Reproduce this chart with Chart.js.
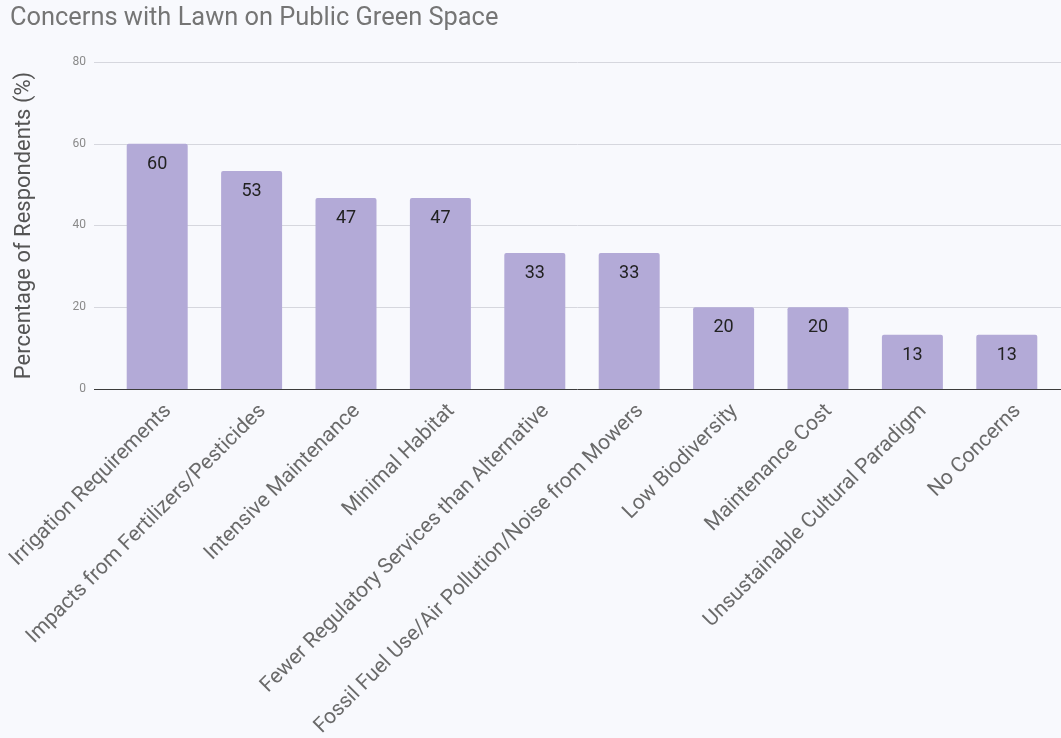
<!DOCTYPE html>
<html>
<head>
<meta charset="utf-8">
<script src="https://cdn.jsdelivr.net/npm/chart.js@4"></script>
<style>
  html, body { margin: 0; padding: 0; background: #f8f9fd; }
  #wrap { width: 1061px; height: 738px; }
</style>
</head>
<body>
<div id="wrap"><canvas id="c" width="1061" height="738"></canvas></div>
<script>
const categories = [
  "Irrigation Requirements",
  "Impacts from Fertilizers/Pesticides",
  "Intensive Maintenance",
  "Minimal Habitat",
  "Fewer Regulatory Services than Alternative",
  "Fossil Fuel Use/Air Pollution/Noise from Mowers",
  "Low Biodiversity",
  "Maintenance Cost",
  "Unsustainable Cultural Paradigm",
  "No Concerns"
];
const percentages = [60, 53.3, 46.7, 46.7, 33.3, 33.3, 20, 20, 13.3, 13.3];
const yTicks = [0, 20, 40, 60, 80];
const chartTitle = "Concerns with Lawn on Public Green Space";
const yTitle = "Percentage of Respondents (%)";

const FONT = "Roboto, 'Noto Sans', sans-serif";

const gridPlugin = {
  id: 'extGrid',
  beforeDatasetsDraw(chart) {
    const ctx = chart.ctx;
    const ys = chart.scales.y;
    ctx.save();
    ctx.lineWidth = 1;
    ys.ticks.forEach(t => {
      const y = Math.round(ys.getPixelForValue(t.value)) + 0.5;
      ctx.strokeStyle = t.value === 0 ? '#3c3c3c' : '#d6d7de';
      ctx.beginPath();
      ctx.moveTo(94, y);
      ctx.lineTo(chart.width, y);
      ctx.stroke();
    });
    ctx.restore();
  }
};

const labelPlugin = {
  id: 'barLabels',
  afterDatasetsDraw(chart) {
    const ctx = chart.ctx;
    const meta = chart.getDatasetMeta(0);
    ctx.save();
    ctx.font = "18px " + FONT;
    ctx.fillStyle = '#222222';
    ctx.textAlign = 'center';
    ctx.textBaseline = 'middle';
    meta.data.forEach((bar, i) => {
      const v = chart.data.datasets[0].data[i];
      ctx.fillText(String(Math.round(v)), bar.x, bar.y + 20.5);
    });
    ctx.restore();
  }
};

new Chart(document.getElementById('c'), {
  type: 'bar',
  data: {
    labels: categories,
    datasets: [{
      data: percentages,
      backgroundColor: '#b3aad7',
      borderRadius: { topLeft: 2, topRight: 2, bottomLeft: 0, bottomRight: 0 },
      borderSkipped: 'start',
      categoryPercentage: 1,
      barPercentage: 0.646
    }]
  },
  options: {
    responsive: false,
    animation: false,
    devicePixelRatio: 1,
    layout: { padding: { left: 10, right: 7, top: 0, bottom: 0 } },
    plugins: {
      legend: { display: false },
      tooltip: { enabled: false },
      title: {
        display: true,
        text: chartTitle,
        align: 'start',
        color: '#757575',
        font: { family: FONT, size: 25.4, weight: 'normal' },
        padding: { top: 3.5, bottom: 28 }
      }
    },
    scales: {
      x: {
        grid: { display: false },
        border: { display: false },
        ticks: {
          autoSkip: false,
          maxRotation: 45,
          minRotation: 45,
          color: '#6a6a6a',
          font: { family: FONT, size: 21 },
          padding: 2,
          labelOffset: 11
        },
        afterFit(scale) {
          scale.height = 349;
          scale.paddingLeft = 0;
          scale.paddingRight = 0;
        }
      },
      y: {
        min: 0,
        max: 80,
        afterBuildTicks(scale) { scale.ticks = yTicks.map(v => ({ value: v })); },
        grid: { display: false },
        border: { display: false },
        ticks: {
          color: '#8a8a8a',
          font: { family: FONT, size: 12 },
          padding: 16
        },
        title: {
          display: true,
          text: yTitle,
          color: '#555555',
          font: { family: FONT, size: 22 },
          padding: { top: 1, bottom: 0 }
        },
        afterFit(scale) {
          scale.width = 100;
          scale.paddingTop = 0;
          scale.paddingBottom = 0;
        }
      }
    }
  },
  plugins: [gridPlugin, labelPlugin]
});
</script>
</body>
</html>
